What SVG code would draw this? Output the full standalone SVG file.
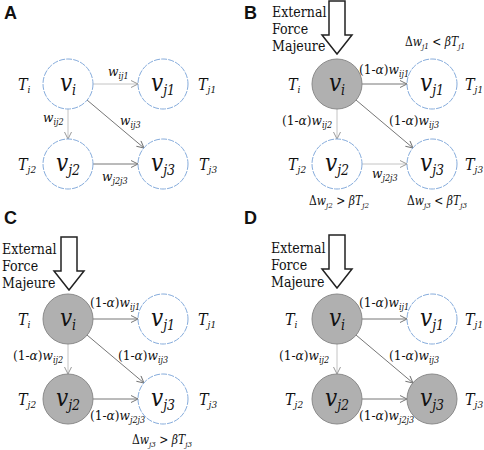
<svg xmlns="http://www.w3.org/2000/svg" width="484" height="450" viewBox="0 0 484 450">
<defs>
<style>
text{font-family:"DejaVu Serif",serif;font-stretch:condensed;fill:#111}
.bg{fill:#ffffff}
.open{fill:#ffffff;stroke:#86acdc;stroke-width:1;stroke-dasharray:6 1.2}
.hit{fill:#b0b0b0;stroke:#8a8a8a;stroke-width:1}
.nl{font-style:italic;font-size:24px;text-anchor:middle}
.sb{font-size:14px}
.tl{font-style:italic;font-size:16px}
.ts{font-size:10px}
.el{font-size:13.5px}
.it{font-style:italic}
.es{font-size:9px;font-style:italic}
.dl{font-size:12px}
.ds{font-size:8px;font-style:italic}
.ext{font-size:14px}
.big{fill:#ffffff;stroke:#222;stroke-width:1.5;stroke-linejoin:miter}
text.pl{font-family:"Liberation Sans",Arial,sans-serif;font-stretch:normal;font-weight:bold;font-size:18px}
.ed{stroke:#777777;stroke-width:1;fill:none;marker-end:url(#hd)}
.el2{stroke:#c4c4c4;stroke-width:1;fill:none;marker-end:url(#hl)}
</style>
<marker id="hd" viewBox="0 0 8 8" refX="7.5" refY="4" markerWidth="8" markerHeight="8" markerUnits="userSpaceOnUse" orient="auto">
<path d="M0.5,0.5 L7.5,4 L0.5,7.5" fill="none" stroke="#777777" stroke-width="1"/>
</marker>
<marker id="hl" viewBox="0 0 8 8" refX="7.5" refY="4" markerWidth="8" markerHeight="8" markerUnits="userSpaceOnUse" orient="auto">
<path d="M0.5,0.5 L7.5,4 L0.5,7.5" fill="none" stroke="#999999" stroke-width="1"/>
</marker>
<path id="bigarrow" d="M-8,-53 L8,-53 L8,-19 L15,-19 L0,0 L-15,-19 L-8,-19 Z"/>
</defs>
<rect class="bg" x="0" y="0" width="484" height="450"/>

<!-- Panel letters -->
<text class="pl" x="4" y="19">A</text>
<text class="pl" x="244" y="19">B</text>
<text class="pl" x="4" y="224">C</text>
<text class="pl" x="244" y="224">D</text>

<!-- External force arrows -->
<g id="forces">
<use href="#bigarrow" class="big" transform="translate(337,54)"/>
<use href="#bigarrow" class="big" transform="translate(69,290)"/>
<use href="#bigarrow" class="big" transform="translate(337,288)"/>
<text class="ext" x="272" y="17">External</text>
<text class="ext" x="272" y="34">Force</text>
<text class="ext" x="272" y="51">Majeure</text>
<text class="ext" x="2" y="254">External</text>
<text class="ext" x="2" y="271">Force</text>
<text class="ext" x="2" y="288">Majeure</text>
<text class="ext" x="271" y="253">External</text>
<text class="ext" x="271" y="270">Force</text>
<text class="ext" x="271" y="287">Majeure</text>
</g>

<!-- Connectors -->
<g id="connectors">
<line class="el2" x1="93" y1="84" x2="138" y2="84"/>
<line class="el2" x1="68" y1="109" x2="68" y2="139"/>
<line class="ed" x1="87" y1="100" x2="144" y2="148"/>
<line class="ed" x1="93" y1="164" x2="138" y2="164"/>
<line class="ed" x1="362" y1="84" x2="407" y2="84"/>
<line class="el2" x1="337" y1="109" x2="337" y2="139"/>
<line class="ed" x1="356" y1="100" x2="413" y2="148"/>
<line class="el2" x1="362" y1="164" x2="407" y2="164"/>
<line class="ed" x1="93" y1="319" x2="138" y2="319"/>
<line class="el2" x1="68" y1="344" x2="68" y2="374"/>
<line class="ed" x1="87" y1="335" x2="144" y2="383"/>
<line class="ed" x1="93" y1="399" x2="138" y2="399"/>
<line class="ed" x1="362" y1="319" x2="407" y2="319"/>
<line class="el2" x1="337" y1="344" x2="337" y2="374"/>
<line class="ed" x1="356" y1="335" x2="413" y2="383"/>
<line class="ed" x1="362" y1="399" x2="407" y2="399"/>
</g>

<!-- Panel A nodes -->
<g id="A-vi"><circle class="open" cx="68" cy="84" r="25"/><text class="nl" x="68" y="91">v<tspan class="sb" dy="4">i</tspan></text></g>
<g id="A-vj1"><circle class="open" cx="163" cy="84" r="25"/><text class="nl" x="163" y="91">v<tspan class="sb" dy="4">j1</tspan></text></g>
<g id="A-vj2"><circle class="open" cx="68" cy="164" r="25"/><text class="nl" x="68" y="171">v<tspan class="sb" dy="4">j2</tspan></text></g>
<g id="A-vj3"><circle class="open" cx="163" cy="164" r="25"/><text class="nl" x="163" y="171">v<tspan class="sb" dy="4">j3</tspan></text></g>
<g id="A-labels">
<text class="tl" x="18" y="90">T<tspan class="ts" dy="3">i</tspan></text>
<text class="tl" x="198" y="90">T<tspan class="ts" dy="3">j1</tspan></text>
<text class="tl" x="18" y="170">T<tspan class="ts" dy="3">j2</tspan></text>
<text class="tl" x="199" y="170">T<tspan class="ts" dy="3">j3</tspan></text>
<text class="el" x="108" y="76"><tspan class="it">w</tspan><tspan class="es" dy="3">ij1</tspan></text>
<text class="el" x="43" y="122"><tspan class="it">w</tspan><tspan class="es" dy="3">ij2</tspan></text>
<text class="el" x="120" y="125"><tspan class="it">w</tspan><tspan class="es" dy="3">ij3</tspan></text>
<text class="el" x="102" y="181"><tspan class="it">w</tspan><tspan class="es" dy="3">j2j3</tspan></text>
</g>

<!-- Panel B nodes -->
<g id="B-vi"><circle class="hit" cx="337" cy="84" r="25"/><text class="nl" x="337" y="91">v<tspan class="sb" dy="4">i</tspan></text></g>
<g id="B-vj1"><circle class="open" cx="432" cy="84" r="25"/><text class="nl" x="432" y="91">v<tspan class="sb" dy="4">j1</tspan></text></g>
<g id="B-vj2"><circle class="open" cx="337" cy="164" r="25"/><text class="nl" x="337" y="171">v<tspan class="sb" dy="4">j2</tspan></text></g>
<g id="B-vj3"><circle class="open" cx="432" cy="164" r="25"/><text class="nl" x="432" y="171">v<tspan class="sb" dy="4">j3</tspan></text></g>
<g id="B-labels">
<text class="tl" x="288" y="90">T<tspan class="ts" dy="3">i</tspan></text>
<text class="tl" x="465" y="90">T<tspan class="ts" dy="3">j1</tspan></text>
<text class="tl" x="288" y="170">T<tspan class="ts" dy="3">j2</tspan></text>
<text class="tl" x="465" y="170">T<tspan class="ts" dy="3">j3</tspan></text>
<text class="dl" x="405" y="46">Δ<tspan class="it">w</tspan><tspan class="ds" dy="3">j1</tspan><tspan dy="-3"> &lt; </tspan><tspan class="it">βT</tspan><tspan class="ds" dy="3">j1</tspan></text>
<text class="el" x="359" y="74">(1-<tspan class="it">α</tspan>)<tspan class="it">w</tspan><tspan class="es" dy="3">ij1</tspan></text>
<text class="el" x="282" y="125">(1-<tspan class="it">α</tspan>)<tspan class="it">w</tspan><tspan class="es" dy="3">ij2</tspan></text>
<text class="el" x="389" y="125">(1-<tspan class="it">α</tspan>)<tspan class="it">w</tspan><tspan class="es" dy="3">ij3</tspan></text>
<text class="el" x="372" y="178"><tspan class="it">w</tspan><tspan class="es" dy="3">j2j3</tspan></text>
<text class="dl" x="309" y="205">Δ<tspan class="it">w</tspan><tspan class="ds" dy="3">j2</tspan><tspan dy="-3"> &gt; </tspan><tspan class="it">βT</tspan><tspan class="ds" dy="3">j2</tspan></text>
<text class="dl" x="407" y="205">Δ<tspan class="it">w</tspan><tspan class="ds" dy="3">j3</tspan><tspan dy="-3"> &lt; </tspan><tspan class="it">βT</tspan><tspan class="ds" dy="3">j3</tspan></text>
</g>

<!-- Panel C nodes -->
<g id="C-vi"><circle class="hit" cx="68" cy="319" r="25"/><text class="nl" x="68" y="326">v<tspan class="sb" dy="4">i</tspan></text></g>
<g id="C-vj1"><circle class="open" cx="163" cy="319" r="25"/><text class="nl" x="163" y="326">v<tspan class="sb" dy="4">j1</tspan></text></g>
<g id="C-vj2"><circle class="hit" cx="68" cy="399" r="25"/><text class="nl" x="68" y="406">v<tspan class="sb" dy="4">j2</tspan></text></g>
<g id="C-vj3"><circle class="open" cx="163" cy="399" r="25"/><text class="nl" x="163" y="406">v<tspan class="sb" dy="4">j3</tspan></text></g>
<g id="C-labels">
<text class="tl" x="18" y="325">T<tspan class="ts" dy="3">i</tspan></text>
<text class="tl" x="198" y="325">T<tspan class="ts" dy="3">j1</tspan></text>
<text class="tl" x="18" y="405">T<tspan class="ts" dy="3">j2</tspan></text>
<text class="tl" x="199" y="405">T<tspan class="ts" dy="3">j3</tspan></text>
<text class="el" x="90" y="307">(1-<tspan class="it">α</tspan>)<tspan class="it">w</tspan><tspan class="es" dy="3">ij1</tspan></text>
<text class="el" x="13" y="360">(1-<tspan class="it">α</tspan>)<tspan class="it">w</tspan><tspan class="es" dy="3">ij2</tspan></text>
<text class="el" x="118" y="360">(1-<tspan class="it">α</tspan>)<tspan class="it">w</tspan><tspan class="es" dy="3">ij3</tspan></text>
<text class="el" x="90" y="420">(1-<tspan class="it">α</tspan>)<tspan class="it">w</tspan><tspan class="es" dy="3">j2j3</tspan></text>
<text class="dl" x="132" y="444">Δ<tspan class="it">w</tspan><tspan class="ds" dy="3">j3</tspan><tspan dy="-3"> &gt; </tspan><tspan class="it">βT</tspan><tspan class="ds" dy="3">j3</tspan></text>
</g>

<!-- Panel D nodes -->
<g id="D-vi"><circle class="hit" cx="337" cy="319" r="25"/><text class="nl" x="337" y="326">v<tspan class="sb" dy="4">i</tspan></text></g>
<g id="D-vj1"><circle class="open" cx="432" cy="319" r="25"/><text class="nl" x="432" y="326">v<tspan class="sb" dy="4">j1</tspan></text></g>
<g id="D-vj2"><circle class="hit" cx="337" cy="399" r="25"/><text class="nl" x="337" y="406">v<tspan class="sb" dy="4">j2</tspan></text></g>
<g id="D-vj3"><circle class="hit" cx="432" cy="399" r="25"/><text class="nl" x="432" y="406">v<tspan class="sb" dy="4">j3</tspan></text></g>
<g id="D-labels">
<text class="tl" x="285" y="325">T<tspan class="ts" dy="3">i</tspan></text>
<text class="tl" x="465" y="325">T<tspan class="ts" dy="3">j1</tspan></text>
<text class="tl" x="285" y="405">T<tspan class="ts" dy="3">j2</tspan></text>
<text class="tl" x="465" y="405">T<tspan class="ts" dy="3">j3</tspan></text>
<text class="el" x="359" y="307">(1-<tspan class="it">α</tspan>)<tspan class="it">w</tspan><tspan class="es" dy="3">ij1</tspan></text>
<text class="el" x="279" y="360">(1-<tspan class="it">α</tspan>)<tspan class="it">w</tspan><tspan class="es" dy="3">ij2</tspan></text>
<text class="el" x="389" y="360">(1-<tspan class="it">α</tspan>)<tspan class="it">w</tspan><tspan class="es" dy="3">ij3</tspan></text>
<text class="el" x="359" y="420">(1-<tspan class="it">α</tspan>)<tspan class="it">w</tspan><tspan class="es" dy="3">j2j3</tspan></text>
</g>
</svg>
